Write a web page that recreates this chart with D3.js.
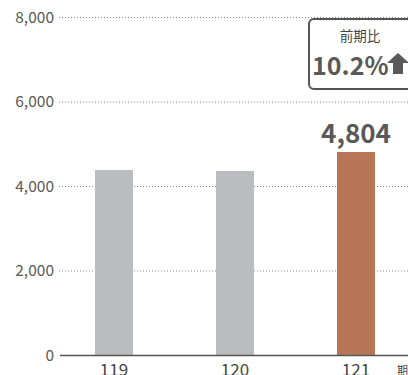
<!DOCTYPE html>
<html>
<head>
<meta charset="utf-8">
<script src="https://cdn.jsdelivr.net/npm/d3@7"></script>
<style>
  body { margin: 0; background: #fff; }
  svg { display: block; }
</style>
</head>
<body>
<div id="body"></div>
<script>
var periods = ["119", "120", "121"];
var values = [4379, 4355, 4804];
var yTicks = [0, 2000, 4000, 6000, 8000];
var ratioTitle = "前期比";
var ratioText = "10.2%";
var unitText = "期";

var width = 408;
var height = 375;
var font = "'Noto Sans CJK JP', 'Noto Sans', sans-serif";
var textColor = "#595959";
var grayBar = "#bbbcc0";
var highlightBar = "#b77756";

var svg = d3
  .select("#body")
  .append("svg")
  .attr("width", width)
  .attr("height", height);

var yScale = d3.scaleLinear().domain([0, 8000]).range([355, 17]);

var xScale = d3
  .scaleBand()
  .domain(periods)
  .range([53.5, 416.5])
  .paddingInner(0.686)
  .paddingOuter(0.343);

// grid lines
svg
  .append("g")
  .selectAll("line")
  .data(yTicks.filter((d) => d > 0))
  .enter()
  .append("line")
  .attr("x1", 59)
  .attr("x2", width)
  .attr("y1", (d) => yScale(d) + 0.5)
  .attr("y2", (d) => yScale(d) + 0.5)
  .attr("stroke", "#8a8a8a")
  .attr("stroke-width", 1)
  .attr("stroke-dasharray", "1,2");

// tick labels
svg
  .append("g")
  .selectAll("text")
  .data(yTicks)
  .enter()
  .append("text")
  .attr("x", 54)
  .attr("y", (d) => yScale(d) + 5.5)
  .attr("text-anchor", "end")
  .attr("font-size", 15.5)
  .style("font-family", font)
  .attr("fill", textColor)
  .text((d) => d3.format(",")(d));

// bars
svg
  .append("g")
  .selectAll("rect")
  .data(values)
  .enter()
  .append("rect")
  .attr("x", (d, i) => xScale(periods[i]))
  .attr("y", (d) => yScale(d))
  .attr("width", xScale.bandwidth())
  .attr("height", (d) => yScale(0) - yScale(d))
  .attr("fill", (d, i) => (i === values.length - 1 ? highlightBar : grayBar));

// baseline
svg
  .append("line")
  .attr("x1", 60)
  .attr("x2", width)
  .attr("y1", yScale(0) + 0.5)
  .attr("y2", yScale(0) + 0.5)
  .attr("stroke", "#555")
  .attr("stroke-width", 1.5);

// value label on last bar
var last = values.length - 1;
svg
  .append("text")
  .attr("x", xScale(periods[last]) + xScale.bandwidth() / 2)
  .attr("y", yScale(values[last]) - 9)
  .attr("text-anchor", "middle")
  .attr("font-size", 26)
  .attr("font-weight", "bold")
  .style("font-family", font)
  .attr("fill", textColor)
  .text(d3.format(",")(values[last]));

// x labels
svg
  .append("g")
  .selectAll("text")
  .data(periods)
  .enter()
  .append("text")
  .attr("x", (d) => xScale(d) + xScale.bandwidth() / 2)
  .attr("y", 376)
  .attr("text-anchor", "middle")
  .attr("font-size", 17)
  .style("font-family", font)
  .attr("fill", "#444")
  .text((d) => d);

svg
  .append("text")
  .attr("x", 397)
  .attr("y", 375)
  .attr("font-size", 11)
  .style("font-family", font)
  .attr("fill", "#444")
  .text(unitText);

// ratio box
var box = svg.append("g");
box
  .append("rect")
  .attr("x", 309)
  .attr("y", 19)
  .attr("width", 120)
  .attr("height", 70)
  .attr("rx", 5)
  .attr("fill", "#fff")
  .attr("stroke", "#555")
  .attr("stroke-width", 2);

box
  .append("text")
  .attr("x", 360)
  .attr("y", 41)
  .attr("text-anchor", "middle")
  .attr("font-size", 13.5)
  .style("font-family", font)
  .attr("fill", "#444")
  .text(ratioTitle);

box
  .append("text")
  .attr("x", 312)
  .attr("y", 75)
  .attr("font-size", 25)
  .attr("font-weight", "bold")
  .style("font-family", font)
  .attr("fill", textColor)
  .text(ratioText);

// up arrow
box
  .append("path")
  .attr("d", "M398,53 L409,63 L403,63 L403,74 L393,74 L393,63 L387,63 Z")
  .attr("fill", textColor);
</script>
</body>
</html>
